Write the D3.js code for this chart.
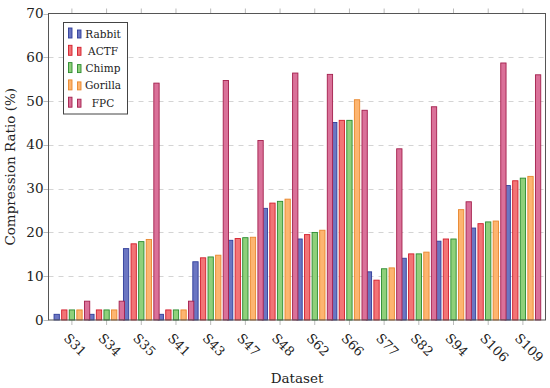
<!DOCTYPE html>
<html>
<head>
<meta charset="UTF-8">
<title>Compression ratio</title>
<script src="https://d3js.org/d3.v7.min.js"></script>
<style>
  body { margin: 0; background: #fff; }
  text { font-family: "DejaVu Serif", serif; fill: #222; }
</style>
</head>
<body>
<svg id="chart" width="550" height="388"></svg>
<script>
// data
const datasets = ["S31","S34","S35","S41","S43","S47","S48","S62","S66","S77","S82","S94","S106","S109"];
const rabbit  = [1.3, 1.3, 16.3, 1.3, 13.3, 18.2, 25.5, 18.5, 45.1, 11.0, 14.1, 18.0, 21.0, 30.7];
const actf    = [2.3, 2.3, 17.4, 2.3, 14.2, 18.6, 26.7, 19.5, 45.6,  9.1, 15.1, 18.5, 22.0, 31.8];
const chimp   = [2.3, 2.3, 17.9, 2.3, 14.4, 18.8, 27.1, 20.0, 45.6, 11.7, 15.1, 18.5, 22.4, 32.4];
const gorilla = [2.3, 2.3, 18.4, 2.3, 14.8, 18.9, 27.6, 20.5, 50.3, 11.9, 15.5, 25.2, 22.6, 32.8];
const fpc     = [4.3, 4.3, 54.1, 4.3, 54.7, 41.0, 56.4, 56.1, 47.9, 39.1, 48.7, 27.0, 58.7, 56.0];
const yTicks  = [0, 10, 20, 30, 40, 50, 60, 70];

const series = [
  {name: "Rabbit",  values: rabbit,  fill: "#6b76c2", stroke: "#2f3d9a"},
  {name: "ACTF",    values: actf,    fill: "#f27476", stroke: "#d21e2c"},
  {name: "Chimp",   values: chimp,   fill: "#8fd07a", stroke: "#2a8a2e"},
  {name: "Gorilla", values: gorilla, fill: "#fdb570", stroke: "#e8862c"},
  {name: "FPC",     values: fpc,     fill: "#da7199", stroke: "#a31f4c"}
];

const svg = d3.select("#chart");
const pL = 48.5, pR = 545.5, pT = 13.5, pB = 320;

const x = d3.scalePoint().domain(datasets).range([pL + 23.4, pR - 22.6]);
const step = x.step();
const pitch = step * 0.219, bw = step * 0.153;
const y = d3.scaleLinear().domain([0, 70]).range([pB, pT]);

// grid
svg.append("g").selectAll("line").data(yTicks.filter(d => d > 0 && d < 70)).join("line")
  .attr("x1", pL).attr("x2", pR)
  .attr("y1", d => Math.round(y(d)) + 0.5).attr("y2", d => Math.round(y(d)) + 0.5)
  .attr("stroke", "#d4d4d4").attr("stroke-dasharray", "5,5");

// y ticks + labels
const yAxis = svg.append("g");
yAxis.selectAll("line").data(yTicks).join("line")
  .attr("x1", pL - 5).attr("x2", pL)
  .attr("y1", d => Math.round(y(d)) + 0.5).attr("y2", d => Math.round(y(d)) + 0.5)
  .attr("stroke", "#bbb");
yAxis.selectAll("text").data(yTicks).join("text")
  .attr("x", pL - 5).attr("y", d => y(d) + 4.5)
  .attr("text-anchor", "end").style("font-size", "13.5px")
  .text(d => d);

// x ticks top and bottom
const xt = svg.append("g");
xt.selectAll(".tb").data(datasets).join("line").attr("class", "tb")
  .attr("x1", d => x(d)).attr("x2", d => x(d)).attr("y1", pB).attr("y2", pB + 5)
  .attr("stroke", "#bbb");
xt.selectAll(".tt").data(datasets).join("line").attr("class", "tt")
  .attr("x1", d => x(d)).attr("x2", d => x(d)).attr("y1", pT - 5).attr("y2", pT)
  .attr("stroke", "#bbb");
xt.selectAll("text").data(datasets).join("text")
  .attr("transform", d => `translate(${x(d) - 9},${pB + 19}) rotate(45)`)
  .attr("text-anchor", "start").style("font-size", "13px")
  .text(d => d);

// bars
series.forEach((s, i) => {
  svg.append("g").selectAll("rect").data(s.values).join("rect")
    .attr("x", (d, j) => x(datasets[j]) + (i - 2) * pitch - bw / 2)
    .attr("y", d => y(d))
    .attr("width", bw)
    .attr("height", d => pB - y(d))
    .attr("fill", s.fill).attr("stroke", s.stroke).attr("stroke-width", 0.9);
});

// frame
svg.append("rect").attr("x", pL).attr("y", pT).attr("width", pR - pL).attr("height", pB - pT)
  .attr("fill", "none").attr("stroke", "#555").attr("stroke-width", 1);

// axis titles
svg.append("text").attr("x", (pL + pR) / 2).attr("y", 383)
  .attr("text-anchor", "middle").style("font-size", "13.5px").text("Dataset");
svg.append("text").attr("transform", `translate(15,${(pT + pB) / 2}) rotate(-90)`)
  .attr("text-anchor", "middle").style("font-size", "13.5px").text("Compression Ratio (%)");

// legend
const lg = svg.append("g").attr("transform", "translate(63.5,22.5)");
lg.append("rect").attr("width", 64).attr("height", 91.5)
  .attr("fill", "#fff").attr("stroke", "#444");
series.forEach((s, i) => {
  const cy = 11 + i * 17.3;
  lg.append("rect").attr("x", 5).attr("y", cy - 5.5).attr("width", 3.5).attr("height", 10)
    .attr("fill", s.fill).attr("stroke", s.stroke).attr("stroke-width", 0.9);
  lg.append("rect").attr("x", 14).attr("y", cy - 3.5).attr("width", 3.5).attr("height", 8)
    .attr("fill", s.fill).attr("stroke", s.stroke).attr("stroke-width", 0.9);
  lg.append("text").attr("x", 39.5).attr("y", cy + 4)
    .attr("text-anchor", "middle").style("font-size", "10.5px").text(s.name);
});
</script>
</body>
</html>
